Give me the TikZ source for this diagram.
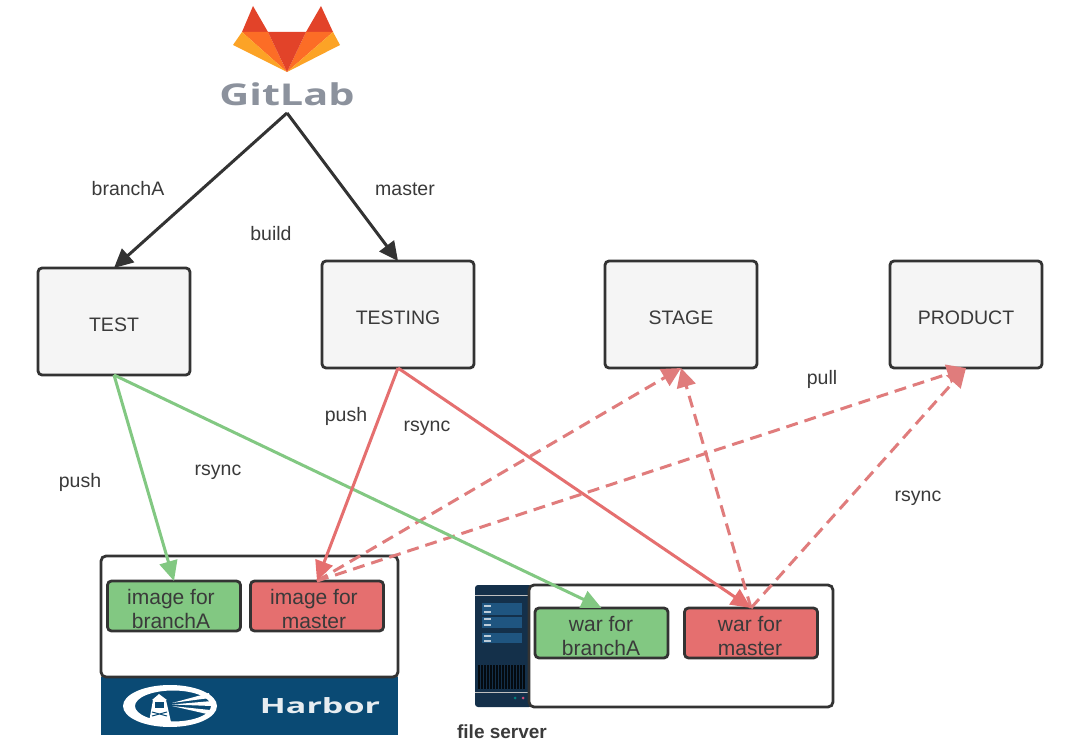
\documentclass[tikz,border=0pt]{standalone}
\usepackage{fontspec}
\usepackage{graphicx}
\setmainfont{Liberation Sans}
\newfontfamily\logofont{Open Sans}
\usetikzlibrary{arrows.meta}
\definecolor{edgedark}{HTML}{333333}
\definecolor{textdark}{HTML}{3A3A3A}
\definecolor{greenfill}{HTML}{82C882}
\definecolor{redfill}{HTML}{E56F6F}
\definecolor{reddash}{HTML}{E07C7C}
\definecolor{harborblue}{HTML}{0A4A74}
\definecolor{serverdark}{HTML}{14304A}
\definecolor{serverpanel}{HTML}{1F5580}
\definecolor{foxred}{RGB}{226,67,41}
\definecolor{foxorange}{RGB}{252,109,38}
\definecolor{foxyellow}{RGB}{252,163,38}
\definecolor{logogrey}{RGB}{140,146,157}
\tikzset{
  x=1pt,y=-1pt,
  every node/.style={font=\fontsize{19.5}{23}\selectfont,text=textdark,inner sep=0pt,outer sep=0pt},
  envbox/.style={draw=edgedark,line width=2.8pt,fill=black!4,rounded corners=4pt,minimum width=152pt,minimum height=107pt},
  artbox/.style={draw=edgedark,line width=2.8pt,rounded corners=4pt,minimum width=133pt,minimum height=50pt},
  arttext/.style={align=center,font=\fontsize{21}{24}\selectfont},
  hostbox/.style={draw=edgedark,line width=2.8pt,fill=white,rounded corners=5pt},
  blackflow/.style={draw=edgedark,line width=3pt,-{Triangle[length=19pt,width=18pt]}},
  greenflow/.style={draw=greenfill,line width=3pt,-{Triangle[length=20pt,width=18pt]}},
  redflow/.style={draw=redfill,line width=3pt,-{Triangle[length=20pt,width=18pt]}},
  pullflow/.style={draw=reddash,line width=3pt,dash pattern=on 12pt off 7pt,-{Triangle[length=19pt,width=19pt]}},
}
\begin{document}
\begin{tikzpicture}
\useasboundingbox (0,0) rectangle (1080,741);
\fill[white] (0,0) rectangle (1080,741);
% GitLab logo
\fill[foxred] (253,6) -- (242,32) -- (268,32) -- cycle;
\fill[foxred] (321,6) -- (306,32) -- (333,32) -- cycle;
\fill[foxorange] (242,32) -- (268,32) -- (287,72) -- cycle;
\fill[foxorange] (333,32) -- (306,32) -- (287,72) -- cycle;
\fill[foxyellow] (242,32) -- (233,45) -- (287,72) -- cycle;
\fill[foxyellow] (333,32) -- (340,45) -- (287,72) -- cycle;
\fill[foxred] (268,32) -- (306,32) -- (287,72) -- cycle;
\node[font=\logofont\bfseries\fontsize{30}{34}\selectfont,text=logogrey] (gitlabtext) at (287,94) {\scalebox{1.38}[1]{GitLab}};
\coordinate (gitlab) at (287,113);
% environments
\node[envbox] (test) at (114,321.5) {};
\node[envbox] (testing) at (398,314.5) {};
\node[envbox] (stage) at (681,314.5) {};
\node[envbox] (product) at (966,314.5) {};
\node (testtext) at (114,324.5) {TEST};
\node (testingtext) at (398,317.5) {TESTING};
\node (stagetext) at (681,317.5) {STAGE};
\node (producttext) at (966,317.5) {PRODUCT};
% Harbor
\fill[harborblue] (101,677) rectangle (398,735);
\fill[white,even odd rule] (170,706) ellipse [x radius=47,y radius=21] (173,706) ellipse [x radius=38,y radius=15.5];
\fill[white] (153,700) -- (166,700) -- (171,722) -- (149,722) -- cycle;
\fill[white] (152,700) -- (159,694) -- (167,700) -- cycle;
\fill[harborblue] (155,702) rectangle (164,708);
\draw[harborblue,line width=1pt] (152,712) -- (167,716) (152,716) -- (167,712);
\fill[white] (172,703) -- (209,693) -- (210,698) -- cycle;
\fill[white] (172,704.5) -- (212,701) -- (212,706) -- cycle;
\fill[white] (172,706) -- (210,710) -- (207,714) -- cycle;
\node[font=\logofont\bfseries\fontsize{21}{24}\selectfont,text=white!90!harborblue] (harbortext) at (320,706) {\scalebox{1.62}[1]{Harbor}};
\node[hostbox,minimum width=297pt,minimum height=121pt] (harborbox) at (249.5,616.5) {};
\node[artbox,fill=greenfill] (imga) at (174,606) {};
\node[artbox,fill=redfill] (imgm) at (317,606) {};
\node[arttext] (imgatext) at (171,609) {image for\\branchA};
\node[arttext] (imgmtext) at (314,609) {image for\\master};
% file server
\fill[serverdark,rounded corners=3pt] (475,585) rectangle (532,707);
\fill[black!25] (475,594.5) rectangle (529,596);
\fill[black!25] (475,691.5) rectangle (529,693);
\fill[serverpanel] (482,603) rectangle (522,615);
\fill[serverpanel] (482,617) rectangle (522,628);
\fill[serverpanel] (482,633) rectangle (522,643);
\foreach \yy in {605,611,618,624,635,640} \fill[white!70!serverpanel] (484,\yy) rectangle (491,\yy+2);
\fill[black!80!serverdark] (478,665) rectangle (525,689);
\foreach \xx in {480,483,...,524} \fill[serverdark] (\xx,665) rectangle (\xx+1,689);
\fill[teal] (515,698) circle (1.5);
\fill[purple!70!white] (523,698) circle (1.5);
\node[hostbox,minimum width=304pt,minimum height=122pt] (filebox) at (681,646) {};
\node[artbox,fill=greenfill] (wara) at (601.5,633) {};
\node[artbox,fill=redfill] (warm) at (751,633) {};
\node[arttext] (waratext) at (601,636) {war for\\branchA};
\node[arttext] (warmtext) at (750,636) {war for\\master};
\node[font=\bfseries\fontsize{19}{22}\selectfont] (fslabel) at (502,732) {file server};
% connectors
\draw[blackflow] (gitlab) -- (test.north);
\draw[blackflow] (gitlab) -- (testing.north);
\draw[pullflow] (imgm.north) -- (stage.south);
\draw[pullflow] (imgm.north) -- (product.south);
\draw[pullflow] (warm.north) -- (stage.south);
\draw[pullflow] (warm.north) -- (product.south);
\draw[greenflow] (test.south) -- (imga.north);
\draw[greenflow] (test.south) -- (wara.north);
\draw[redflow] (testing.south) -- (imgm.north);
\draw[redflow] (testing.south) -- (warm.north);
% labels
\node (l1) at (128,189) {branchA};
\node (l2) at (405,189) {master};
\node (l3) at (271,234) {build};
\node (l4) at (346,416) {push};
\node (l5) at (427,428) {rsync};
\node (l6) at (822,379) {pull};
\node (l7) at (80,482) {push};
\node (l8) at (218,472) {rsync};
\node (l9) at (918,498) {rsync};
\end{tikzpicture}
\end{document}
